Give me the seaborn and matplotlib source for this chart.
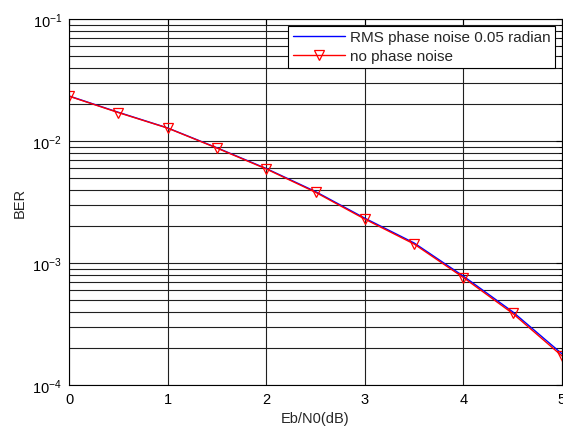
import matplotlib
matplotlib.use("Agg")
import matplotlib.pyplot as plt
import seaborn as sns
import numpy as np
import pandas as pd
from matplotlib.ticker import LogLocator, FixedLocator

ebn0 = [0, 0.5, 1, 1.5, 2, 2.5, 3, 3.5, 4, 4.5, 5]
ber_pn = [0.0234, 0.0172, 0.0128, 0.00880, 0.00595, 0.00385, 0.00233, 0.00146, 0.00078, 0.000398, 0.000180]
ber_nopn = [0.0233, 0.0171, 0.01276, 0.00875, 0.0059, 0.0038, 0.00229, 0.00143, 0.00076, 0.000386, 0.000173]
labels = ["RMS phase noise 0.05 radian", "no phase noise"]

sns.set_style("white")
plt.rcParams['font.family'] = ['Liberation Sans', 'DejaVu Sans']
plt.rcParams['axes.unicode_minus'] = False

fig = plt.figure(figsize=(5.63, 4.27), dpi=100)
ax = fig.add_axes([69/563, 1-386/427, (562-69)/563, (386-20)/427])

df1 = pd.DataFrame({"x": ebn0, "y": ber_pn})
df2 = pd.DataFrame({"x": ebn0, "y": ber_nopn})
sns.lineplot(data=df1, x="x", y="y", ax=ax, color="#0000ff", linewidth=1.0, label=labels[0])
sns.lineplot(data=df2, x="x", y="y", ax=ax, color="#ff0000", linewidth=1.0, marker="v",
             markersize=7, markerfacecolor="none", markeredgecolor="#ff0000",
             markeredgewidth=0.9, label=labels[1])

ax.set_yscale("log")
ax.set_xlim(0, 5)
ax.set_ylim(1e-4, 1e-1)
ax.xaxis.set_major_locator(FixedLocator([0, 1, 2, 3, 4, 5]))
ax.yaxis.set_major_locator(LogLocator(base=10, numticks=10))
ax.yaxis.set_minor_locator(LogLocator(base=10, subs=np.arange(2, 10), numticks=20))
ax.yaxis.set_minor_formatter(plt.NullFormatter())

ax.grid(True, which="major", axis="both", color="#202020", linewidth=0.8, linestyle="-")
ax.grid(True, which="minor", axis="y", color="#202020", linewidth=0.8, linestyle="-")

ax.tick_params(axis="both", which="both", direction="in", top=True, right=True,
               labelsize=10.5, colors="black")
ax.tick_params(axis="both", which="major", length=4)
ax.tick_params(axis="both", which="minor", length=2)
ax.tick_params(axis="x", which="major", pad=5)
ax.tick_params(axis="y", which="major", pad=5)
for s in ax.spines.values():
    s.set_color("black")
    s.set_linewidth(0.8)

ax.set_xlabel("Eb/N0(dB)", fontsize=10.5, labelpad=4)
ax.set_ylabel("BER", fontsize=10.5, labelpad=4)

leg = ax.legend(loc="upper right", fontsize=11, frameon=True, fancybox=False,
                edgecolor="black", framealpha=1, borderpad=0.3, handlelength=3.4,
                handletextpad=0.35, labelspacing=0.3, borderaxespad=0.45)
leg.get_frame().set_linewidth(0.8)

fig.savefig("out.png", dpi=100)
